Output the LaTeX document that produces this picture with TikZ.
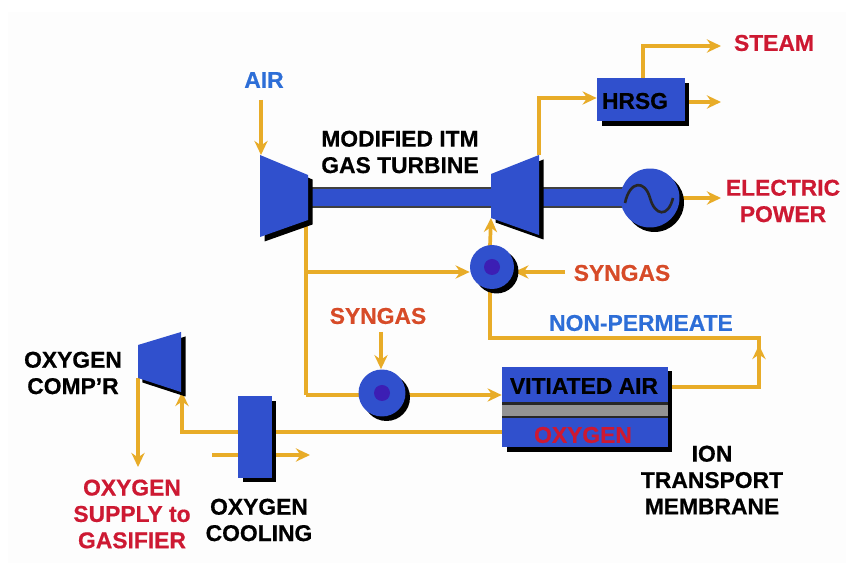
\documentclass[tikz,border=0pt]{standalone}
\usepackage{fontspec}
\setmainfont{Liberation Sans}[BoldFeatures={FakeBold=0.6}]
\usepackage{tikz}
\usetikzlibrary{shadows, backgrounds, arrows.meta}

\definecolor{unitblue}{RGB}{48,80,205}
\definecolor{coreblue}{RGB}{60,30,180}
\definecolor{pipeorange}{RGB}{232,172,40}
\definecolor{labelred}{RGB}{205,25,50}
\definecolor{labelorange}{RGB}{215,75,40}
\definecolor{labelblue}{RGB}{45,110,215}
\definecolor{paper}{RGB}{253,253,253}

\tikzset{
  unit/.style={fill=unitblue, drop shadow={shadow xshift=0.09cm, shadow yshift=-0.09cm, opacity=1, fill=black}},
  shaft/.style={fill=unitblue, draw=black!75, line width=0.6pt},
  pipe/.style={draw=pipeorange, line width=2.1pt},
  flow/.style={pipe, -{Stealth[length=8pt,width=7.5pt]}},
  tag/.style={font=\bfseries\fontsize{13}{15}\selectfont, align=center, inner sep=0pt},
}

\begin{document}
\begin{tikzpicture}[x=0.02cm, y=-0.02cm]
    \useasboundingbox (0,0) rectangle (846,563);

    % Compressors and turbine
    \coordinate (air in) at (261,100);
    \coordinate (comp top) at (261,155);
    \coordinate (comp out) at (306,220);
    \coordinate (turb in) at (491,218);
    \coordinate (turb out) at (539,155);
    \coordinate (oxcomp in) at (182,392);
    \coordinate (oxcomp out) at (138,378);
    \filldraw[shaft] (310,188) rectangle (492,207);
    \filldraw[shaft] (540,188) rectangle (625,207);
    \filldraw[unit, draw=none] (260,155) -- (308,175) -- (308,220) -- (260,237) -- cycle;
    \filldraw[unit, draw=none] (491,174) -- (539,155) -- (539,235) -- (491,218) -- cycle;
    \filldraw[unit, draw=none] (138,345) -- (181,332) -- (181,392) -- (138,378) -- cycle;

    % Generator
    \node[unit, circle, inner sep=0pt, minimum size=1.18cm] (gen) at (650,198) {};
    \draw[line width=1.5pt, black!85] (625,203) .. controls (630,180) and (645,180) .. (650,198) .. controls (655,216) and (668,218) .. (673,198);

    % Heat recovery and combustors
    \node[unit, minimum width=1.76cm, minimum height=0.86cm, inner sep=0pt] (hrsg) at (641,100) {};
    \node[unit, circle, inner sep=0pt, minimum size=0.88cm] (burner) at (492,267) {};
    \node[unit, circle, inner sep=0pt, minimum size=0.94cm] (preheat) at (382,393) {};
    \foreach \c in {burner, preheat} {
      \fill[coreblue] (\c) circle (8);
    }

    % Membrane and cooler
    \node[unit, minimum width=3.32cm, minimum height=1.62cm, inner sep=0pt] (itm) at (585,407) {};
    \fill[black!85] (502,402) rectangle (668,418);
    \fill[gray!85!white] (502,405) rectangle (668,416);
    \node[unit, minimum width=0.68cm, minimum height=1.64cm, inner sep=0pt] (cooler) at (255,437) {};

    % Free ends of the pipes
    \coordinate (steam end) at (721,46);
    \coordinate (hrsg end) at (721,102);
    \coordinate (power end) at (721,198);
    \coordinate (syngas start) at (565,272);
    \coordinate (syngas low) at (381,332);
    \coordinate (supply end) at (138,467);
    \coordinate (water start) at (212,455);
    \coordinate (water end) at (310,455);
    \coordinate (itm left) at (502,432);
    \coordinate (perm right) at (759,338);
    \coordinate (perm left) at (490,338);

    % Pipes go under the machines
    \begin{scope}[on background layer]
      \fill[paper] (8,12) rectangle (846,563);
      \draw[flow] (air in) -- (comp top);
      \draw[flow] (turb out) -- (539,98) -- (hrsg.west |- 0,98);
      \draw[flow] (643,79) -- (643,46) -- (steam end);
      \draw[flow] (hrsg.east |- hrsg end) -- (hrsg end);
      \draw[flow] (gen.east) -- (power end);
      \draw[flow] (syngas start) -- (burner.east |- syngas start);
      \draw[flow] (490,246) -- (turb in);
      \draw[pipe] (comp out) -- (306,395);
      \draw[flow] (306,272) -- (burner.west |- 0,272);
      \draw[flow] (306,395) -- (itm.west |- 0,395);
      \draw[flow] (syngas low) -- (preheat.north -| syngas low);
      \draw[pipe] (itm.east |- 0,387) -- (759,387) -- (perm right) -- (perm left) -- (burner.south -| perm left);
      \draw[flow] (759,387) -- (759,345);
      \draw[flow] (itm left) -- (182,432) -- (oxcomp in);
      \draw[flow] (oxcomp out) -- (supply end);
      \draw[flow] (water start) -- (water end);
    \end{scope}

    % Labels
    \foreach \n/\x/\y/\t/\c in {
      airtag/264/80/AIR/labelblue,
      steamtag/774/43/STEAM/labelred,
      powertag/783/201/{ELECTRIC\\POWER}/labelred,
      syngastag/622/273/SYNGAS/labelorange,
      syngaslow/378/316/SYNGAS/labelorange,
      permtag/641/323/NON-PERMEATE/labelblue,
      oxygentag/583/435/OXYGEN/labelred,
      supplytag/132/514/{OXYGEN\\SUPPLY to\\GASIFIER}/labelred,
      turbinetag/400/152/{MODIFIED ITM\\GAS TURBINE}/black,
      hrsgtag/635/101/HRSG/black,
      airboxtag/584/386/VITIATED AIR/black,
      comptag/73/373/{OXYGEN\\COMP'R}/black,
      coolingtag/259/520/{OXYGEN\\COOLING}/black,
      iontag/712/480/{ION\\TRANSPORT\\MEMBRANE}/black} {
      \node[tag, text=\c] (\n) at (\x,\y) {\t};
    }
\end{tikzpicture}
\end{document}
